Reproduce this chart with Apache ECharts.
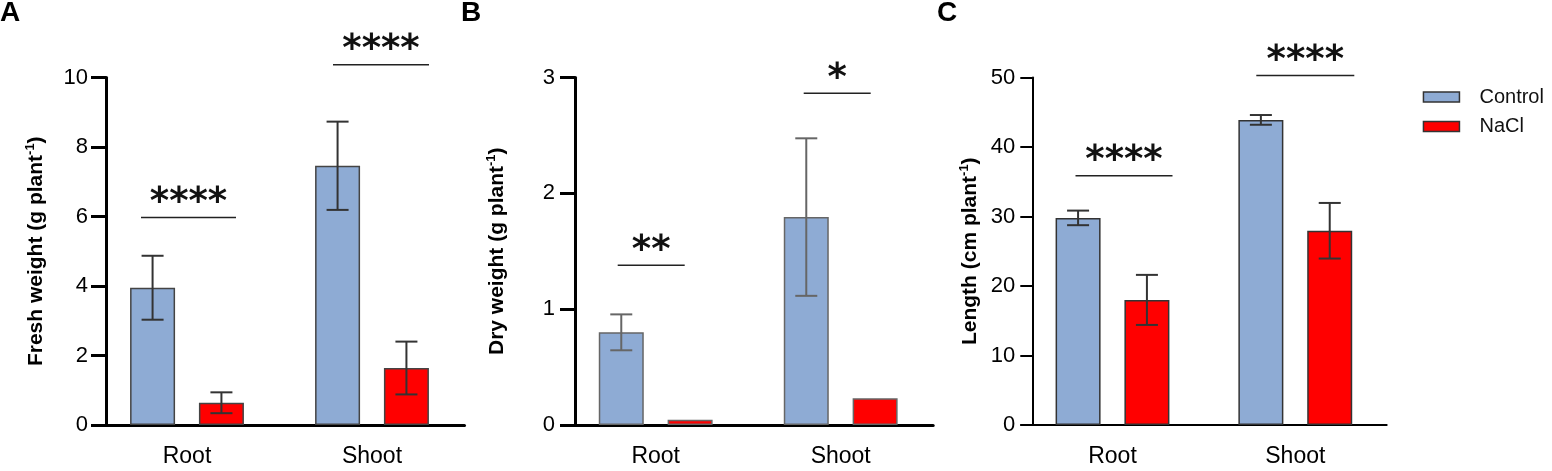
<!DOCTYPE html>
<html>
<head>
<meta charset="utf-8">
<script src="https://cdn.jsdelivr.net/npm/echarts@6/dist/echarts.min.js"></script>
<style>
  html, body { margin: 0; padding: 0; background: #fff; }
  #chart { width: 1552px; height: 471px; }
</style>
</head>
<body>
<div id="chart"></div>
<script>
// data
const categories = ["Root", "Shoot"];
const seriesNames = ["Control", "NaCl"];
const panelLetters = ["A", "B", "C"];
const yTitles = ["Fresh weight (g plant", "Dry weight (g plant", "Length (cm plant"];

const freshControl = [3.95, 7.46];
const freshControlErr = [0.92, 1.27];
const freshNaCl = [0.64, 1.64];
const freshNaClErr = [0.30, 0.76];
const freshSigY = [5.97, 10.37];
const freshSigText = ["****", "****"];

const dryControl = [0.80, 1.795];
const dryControlErr = [0.155, 0.68];
const dryNaCl = [0.045, 0.23];
const dryNaClErr = [0, 0];
const drySigY = [1.38, 2.865];
const drySigText = ["**", "*"];

const lenControl = [29.8, 43.9];
const lenControlErr = [1.05, 0.7];
const lenNaCl = [18.0, 27.95];
const lenNaClErr = [3.6, 4.0];
const lenSigY = [35.85, 50.29];
const lenSigText = ["****", "****"];

const yMax = [10, 3, 50];
const yStep = [2, 1, 10];

// layout / style per panel
const layouts = [
    { left: 94.5, width: 370, yOffset: -11.5, axisW: 3, tickLen: 15, nameGap: 58, labelMargin: 18,
      edge: "#444", err: "#333", sigSpan: [[-46, 49], [-39, 57]] },
    { left: 563.2, width: 370, yOffset: -11.8, axisW: 3, tickLen: 15, nameGap: 66, labelMargin: 20,
      edge: "#666", err: "#666", sigSpan: [[-38, 29], [-37, 30]] },
    { left: 1021.1, width: 365.6, yOffset: -11.2, axisW: 2, tickLen: 12, nameGap: 50, labelMargin: 17,
      edge: "#333", err: "#333", sigSpan: [[-37, 60], [-39, 59]] }
];

const panels = [
    { ctrl: freshControl, ctrlErr: freshControlErr, nacl: freshNaCl, naclErr: freshNaClErr, sigY: freshSigY, sigText: freshSigText },
    { ctrl: dryControl, ctrlErr: dryControlErr, nacl: dryNaCl, naclErr: dryNaClErr, sigY: drySigY, sigText: drySigText },
    { ctrl: lenControl, ctrlErr: lenControlErr, nacl: lenNaCl, naclErr: lenNaClErr, sigY: lenSigY, sigText: lenSigText }
];

const FONT = "Liberation Sans, Arial, sans-serif";
const BLUE = "#8eabd4";
const RED = "#ff0000";
const BAR_W = 45;
const BAR_GAP = 0.53;
const BAR_SHIFT = (BAR_W + BAR_W * BAR_GAP) / 2;
const CAP = 22;

function errorSeries(i, values, errs, sign, color) {
    return {
        type: "custom",
        name: "err",
        xAxisIndex: i,
        yAxisIndex: i,
        z: 5,
        data: values.map((v, k) => [k, v - errs[k], v + errs[k]]),
        renderItem: function (params, api) {
            if (api.value(2) === api.value(1)) return null; // no visible error bar
            const top = api.coord([api.value(0), api.value(2)]);
            const bot = api.coord([api.value(0), api.value(1)]);
            const x = top[0] + sign * BAR_SHIFT;
            const st = { stroke: color, lineWidth: 2 };
            return {
                type: "group",
                children: [
                    { type: "line", shape: { x1: x, y1: top[1], x2: x, y2: bot[1] }, style: st },
                    { type: "line", shape: { x1: x - CAP / 2, y1: top[1], x2: x + CAP / 2, y2: top[1] }, style: st },
                    { type: "line", shape: { x1: x - CAP / 2, y1: bot[1], x2: x + CAP / 2, y2: bot[1] }, style: st }
                ]
            };
        }
    };
}

function sigSeries(i, ys, texts, span) {
    return {
        type: "custom",
        name: "sig",
        xAxisIndex: i,
        yAxisIndex: i,
        z: 6,
        clip: false,
        data: ys.map((y, k) => [k, y]),
        renderItem: function (params, api) {
            const k = params.dataIndex;
            const p = api.coord([api.value(0), api.value(1)]);
            const x1 = p[0] + span[k][0], x2 = p[0] + span[k][1];
            return {
                type: "group",
                children: [
                    { type: "line", shape: { x1: x1, y1: p[1], x2: x2, y2: p[1] },
                      style: { stroke: "#222", lineWidth: 1.5 } },
                    { type: "text",
                      style: { text: texts[k], x: (x1 + x2) / 2, y: p[1] - 14,
                               align: "center", verticalAlign: "middle",
                               font: "bold 37px DejaVu Sans", fill: "#111" } }
                ]
            };
        }
    };
}

const option = {
    animation: false,
    backgroundColor: "#fff",
    title: panelLetters.map((t, i) => ({
        text: t,
        left: [0, 461, 937][i],
        top: -1,
        padding: 0,
        textStyle: { fontFamily: FONT, fontWeight: "bold", fontSize: 28, color: "#000" }
    })),
    legend: {
        data: seriesNames,
        orient: "vertical",
        left: 1422.7,
        top: 87,
        padding: 0,
        itemWidth: 36,
        itemHeight: 10,
        itemGap: 9.5,
        icon: "rect",
        itemStyle: { borderColor: "#333", borderWidth: 1.5 },
        textStyle: { fontFamily: FONT, fontSize: 20, color: "#111", padding: [0, 0, 0, 15] }
    },
    grid: layouts.map(l => ({ left: l.left, width: l.width, top: 77.5, height: 347.5 })),
    xAxis: layouts.map((l, i) => ({
        type: "category",
        gridIndex: i,
        data: categories,
        axisLine: { lineStyle: { color: "#000", width: l.axisW } },
        axisTick: { alignWithLabel: true, length: l.tickLen, lineStyle: { color: "#000", width: l.axisW } },
        axisLabel: { fontFamily: FONT, fontSize: 23, color: "#000", margin: 20 },
        splitLine: { show: false }
    })),
    yAxis: layouts.map((l, i) => ({
        type: "value",
        gridIndex: i,
        min: 0,
        max: yMax[i],
        interval: yStep[i],
        offset: l.yOffset,
        name: "{t|" + yTitles[i] + "}{s|-1}{t|)}",
        nameLocation: "middle",
        nameGap: l.nameGap,
        nameTextStyle: {
            rich: {
                t: { fontFamily: FONT, fontWeight: "bold", fontSize: 21, color: "#000", lineHeight: 24 },
                s: { fontFamily: FONT, fontWeight: "bold", fontSize: 13, color: "#000", lineHeight: 13, verticalAlign: "top" }
            }
        },
        axisLine: { show: true, lineStyle: { color: "#000", width: l.axisW } },
        axisTick: { show: true, length: l.tickLen, lineStyle: { color: "#000", width: l.axisW } },
        axisLabel: { fontFamily: FONT, fontSize: 22, color: "#000", margin: l.labelMargin },
        splitLine: { show: false }
    })),
    series: []
};

panels.forEach((p, i) => {
    const l = layouts[i];
    option.series.push({
        type: "bar", name: seriesNames[0], xAxisIndex: i, yAxisIndex: i,
        data: p.ctrl, barWidth: BAR_W, barGap: (BAR_GAP * 100) + "%",
        itemStyle: { color: BLUE, borderColor: l.edge, borderWidth: 1.5 }
    });
    option.series.push({
        type: "bar", name: seriesNames[1], xAxisIndex: i, yAxisIndex: i,
        data: p.nacl, barWidth: BAR_W, barGap: (BAR_GAP * 100) + "%",
        itemStyle: { color: RED, borderColor: l.edge, borderWidth: 1.5 }
    });
    option.series.push(errorSeries(i, p.ctrl, p.ctrlErr, -1, l.err));
    option.series.push(errorSeries(i, p.nacl, p.naclErr, 1, l.err));
    option.series.push(sigSeries(i, p.sigY, p.sigText, l.sigSpan));
});

const chart = echarts.init(document.getElementById("chart"));
chart.setOption(option);
</script>
</body>
</html>
